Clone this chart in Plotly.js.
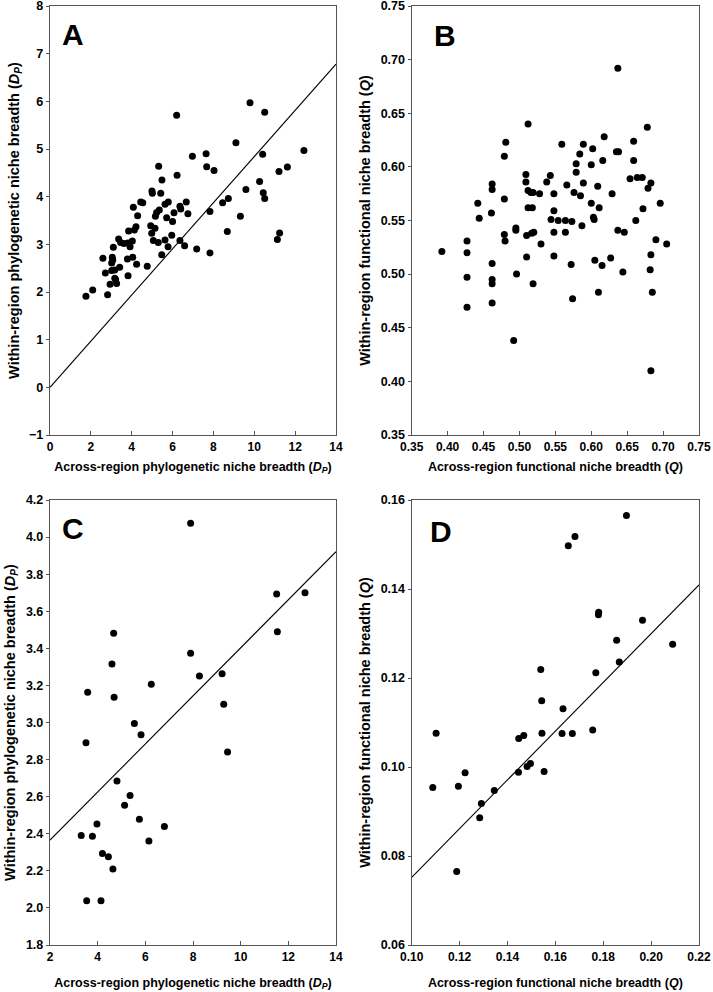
<!DOCTYPE html>
<html>
<head>
<meta charset="utf-8">
<script src="https://cdn.plot.ly/plotly-3.0.1.min.js"></script>
<style>html,body{margin:0;padding:0;background:#fff;}#chart{width:713px;height:992px;}</style>
</head>
<body>
<div id="chart"></div>
<script>
// Panel A: phylogenetic niche breadth (Dp), across vs within region
var aX = [6.20,9.79,10.51,9.10,12.43,6.97,7.64,7.67,8.03,10.41,5.32,6.22,5.48,11.21,11.62,10.26,4.99,5.01,5.42,9.59,
          10.44,10.51,8.73,8.45,4.44,4.54,4.08,5.79,5.63,6.67,6.36,6.40,6.75,5.35,5.22,6.07,5.16,4.29,5.71,6.00,
          7.83,9.32,4.21,4.13,3.85,4.93,5.14,4.98,8.68,11.24,11.13,5.96,5.63,5.06,5.30,6.36,6.59,7.18,7.83,5.78,
          5.47,3.36,3.46,3.10,3.62,3.82,4.03,3.92,3.79,4.05,4.24,4.76,2.59,3.05,3.02,3.07,2.71,3.02,3.17,3.41,
          3.21,3.26,2.94,2.82,2.09,1.76,3.82,3.17];
var aY = [5.71,5.97,5.77,5.13,4.97,4.85,4.90,4.63,4.55,4.89,4.64,4.45,4.35,4.53,4.62,4.32,4.12,4.07,4.07,4.15,
          4.08,3.96,3.96,3.87,3.89,3.87,3.78,3.89,3.84,3.89,3.80,3.74,3.64,3.72,3.67,3.66,3.59,3.60,3.56,3.48,
          3.69,3.59,3.37,3.30,3.28,3.39,3.34,3.23,3.27,3.24,3.10,3.19,3.09,3.08,3.04,3.08,2.97,2.90,2.82,2.95,
          2.78,3.11,3.04,2.94,3.02,3.03,3.07,2.95,2.69,2.73,2.58,2.54,2.71,2.73,2.61,2.67,2.40,2.45,2.46,2.52,
          2.26,2.18,2.16,1.94,2.04,1.91,2.34,2.29];
var aLineX = [0, 14];
var aLineY = [0, 6.78];

// Panel B: functional niche breadth (Q)
var bX = [0.637,0.512,0.678,0.481,0.559,0.589,0.618,0.659,0.602,0.584,0.479,0.635,0.638,0.616,0.659,0.579,0.600,0.579,0.509,0.543,
          0.654,0.664,0.671,0.509,0.538,0.589,0.566,0.683,0.462,0.462,0.512,0.519,0.516,0.528,0.548,0.576,0.585,0.609,0.679,0.629,
          0.479,0.442,0.696,0.600,0.512,0.518,0.611,0.672,0.461,0.444,0.548,0.544,0.554,0.564,0.573,0.603,0.604,0.662,0.587,0.495,
          0.495,0.548,0.564,0.510,0.517,0.520,0.479,0.480,0.637,0.646,0.427,0.690,0.705,0.530,0.392,0.427,0.683,0.548,0.510,0.627,
          0.605,0.572,0.615,0.462,0.682,0.644,0.496,0.427,0.462,0.462,0.519,0.610,0.685,0.574,0.462,0.427,0.492,0.683];
var bY = [0.692,0.640,0.637,0.623,0.621,0.621,0.628,0.624,0.617,0.612,0.610,0.614,0.614,0.606,0.606,0.603,0.602,0.595,0.593,0.592,
          0.589,0.590,0.590,0.586,0.586,0.585,0.583,0.585,0.584,0.579,0.578,0.576,0.576,0.575,0.575,0.576,0.573,0.582,0.580,0.575,
          0.570,0.566,0.566,0.566,0.562,0.562,0.562,0.561,0.557,0.552,0.559,0.551,0.550,0.550,0.549,0.553,0.551,0.550,0.545,0.543,
          0.541,0.539,0.539,0.536,0.538,0.539,0.537,0.531,0.541,0.539,0.531,0.532,0.528,0.528,0.521,0.520,0.518,0.517,0.516,0.515,
          0.513,0.509,0.508,0.510,0.504,0.502,0.500,0.497,0.495,0.491,0.491,0.483,0.483,0.477,0.473,0.469,0.438,0.410];

// Panel C: phylogenetic niche breadth (Dp), second group
var cX = [7.90,11.51,12.70,11.54,4.67,4.60,7.90,8.27,9.22,3.58,4.69,6.25,9.29,5.54,5.82,
          3.51,9.45,4.81,5.36,5.13,5.75,6.80,3.97,3.31,3.78,6.15,4.20,4.45,4.64,3.54,4.14];
var cY = [4.074,3.693,3.700,3.490,3.481,3.315,3.373,3.251,3.263,3.163,3.136,3.206,3.098,2.995,2.934,
          2.891,2.841,2.685,2.606,2.554,2.478,2.439,2.452,2.390,2.386,2.361,2.294,2.276,2.210,2.039,2.039];
var cLineX = [2, 14];
var cLineY = [2.366, 3.921];

// Panel D: functional niche breadth (Q), second group
var dX = [0.1897,0.1682,0.1654,0.1781,0.1780,0.1964,0.1856,0.2090,0.1867,0.1539,0.1769,0.1543,0.1632,0.1756,0.1102,0.1544,
          0.1628,0.1671,0.1468,0.1447,0.1088,0.1195,0.1223,0.1446,0.1482,0.1496,0.1553,0.1345,0.1291,0.1284,0.1188];
var dY = [0.1565,0.1518,0.1497,0.1348,0.1342,0.1330,0.1285,0.1276,0.1236,0.1219,0.1212,0.1149,0.1131,0.1083,0.1076,0.1076,
          0.1075,0.1075,0.1071,0.1064,0.0954,0.0957,0.0987,0.0988,0.1001,0.1008,0.0990,0.0947,0.0918,0.0886,0.0765];
var dLineX = [0.10, 0.22];
var dLineY = [0.0752, 0.1409];

var panelLabels = ['A', 'B', 'C', 'D'];
var xTitles = ['Across-region phylogenetic niche breadth (<i>D<sub>P</sub></i>)',
               'Across-region functional niche breadth (<i>Q</i>)',
               'Across-region phylogenetic niche breadth (<i>D<sub>P</sub></i>)',
               'Across-region functional niche breadth (<i>Q</i>)'];
var yTitles = ['Within-region phylogenetic niche breadth (<i>D<sub>P</sub></i>)',
               'Within-region functional niche breadth (<i>Q</i>)',
               'Within-region phylogenetic niche breadth (<i>D<sub>P</sub></i>)',
               'Within-region functional niche breadth (<i>Q</i>)'];

var W = 713, H = 992;
var FONT = 'Liberation Sans, Arial, Helvetica, sans-serif';
var EPS = 1e-7;

function pts(x, y, xa, ya) {
  return {x: x, y: y, xaxis: xa, yaxis: ya, type: 'scatter', mode: 'markers',
          marker: {size: 7, color: '#000'}, hoverinfo: 'x+y'};
}
function ln(x, y, xa, ya) {
  return {x: x, y: y, xaxis: xa, yaxis: ya, type: 'scatter', mode: 'lines',
          line: {color: '#000', width: 1.1}, hoverinfo: 'skip'};
}

var data = [
  ln(aLineX, aLineY, 'x', 'y'), pts(aX, aY, 'x', 'y'),
  pts(bX, bY, 'x2', 'y2'),
  ln(cLineX, cLineY, 'x3', 'y3'), pts(cX, cY, 'x3', 'y3'),
  ln(dLineX, dLineY, 'x4', 'y4'), pts(dX, dY, 'x4', 'y4')
];

function xa(dom, range, dtick, fmt, title, anchor, standoff) {
  return {domain: dom, range: [range[0] - EPS, range[1] + EPS], tick0: range[0], dtick: dtick, tickformat: fmt, anchor: anchor,
    showline: true, mirror: true, linecolor: '#555', linewidth: 1.2, showgrid: false, zeroline: false,
    ticks: 'inside', ticklen: 4, tickcolor: '#555', automargin: false, ticklabeloverflow: 'allow',
    tickfont: {family: FONT, size: 12, color: '#000', weight: 'bold'},
    title: {text: title, font: {family: FONT, size: 12.5, color: '#000', weight: 'bold'}, standoff: standoff}};
}
function ya(dom, range, dtick, fmt, title, anchor) {
  return {domain: dom, range: [range[0] - EPS, range[1] + EPS], tick0: range[0], dtick: dtick, tickformat: fmt, anchor: anchor,
    showline: true, mirror: true, linecolor: '#555', linewidth: 1.2, showgrid: false, zeroline: false,
    ticks: 'outside', ticklen: 3, tickcolor: '#555', automargin: false, ticklabeloverflow: 'allow',
    tickfont: {family: FONT, size: 12.5, color: '#000', weight: 'bold'},
    title: {text: title, font: {family: FONT, size: 14.5, color: '#000', weight: 'bold'}, standoff: 6}};
}

var colL = [50 / W, 336 / W], colR = [411.7 / W, 699 / W];
var rowT = [1 - 435 / H, 1 - 6 / H], rowB = [1 - 945 / H, 1 - 500 / H];

var layout = {
  width: W, height: H, margin: {l: 0, r: 0, t: 0, b: 0},
  paper_bgcolor: '#fff', plot_bgcolor: '#fff', showlegend: false,
  font: {family: FONT, color: '#000'},
  xaxis: xa(colL, [0, 14], 2, 'd', xTitles[0], 'y', 9),
  yaxis: ya(rowT, [-1, 8], 1, 'd', yTitles[0], 'x'),
  xaxis2: xa(colR, [0.35, 0.75], 0.05, '.2f', xTitles[1], 'y2', 9),
  yaxis2: ya(rowT, [0.35, 0.75], 0.05, '.2f', yTitles[1], 'x2'),
  xaxis3: xa(colL, [2, 14], 2, 'd', xTitles[2], 'y3', 15),
  yaxis3: ya(rowB, [1.8, 4.2], 0.2, '.1f', yTitles[2], 'x3'),
  xaxis4: xa(colR, [0.10, 0.22], 0.02, '.2f', xTitles[3], 'y4', 15),
  yaxis4: ya(rowB, [0.06, 0.16], 0.02, '.2f', yTitles[3], 'x4'),
  annotations: [
    [panelLabels[0], 60, 34.5], [panelLabels[1], 432, 36], [panelLabels[2], 60, 528], [panelLabels[3], 428, 531]
  ].map(function (p) {
    return {text: p[0], xref: 'paper', yref: 'paper', x: p[1] / W, y: 1 - p[2] / H,
            xanchor: 'left', yanchor: 'middle', showarrow: false,
            font: {family: FONT, size: 30, color: '#000', weight: 'bold'}};
  })
};

Plotly.newPlot('chart', data, layout, {staticPlot: true, displayModeBar: false});
</script>
</body>
</html>
